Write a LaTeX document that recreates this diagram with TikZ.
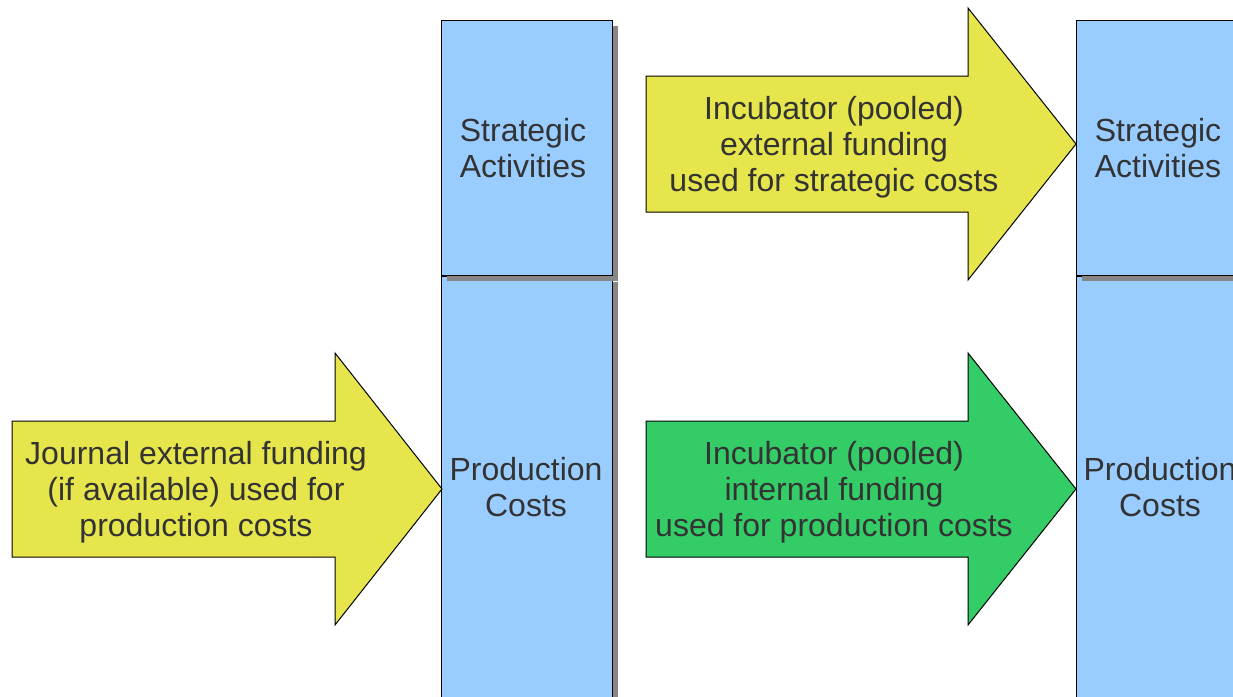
\documentclass[tikz,border=0pt]{standalone}
\usepackage{fontspec}
\setmainfont{Liberation Sans}
\usepackage{tikz}
\usetikzlibrary{shadows}

\definecolor{boxblue}{RGB}{153,204,255}
\definecolor{fundyellow}{RGB}{230,230,76}
\definecolor{fundgreen}{RGB}{51,204,102}
\definecolor{textgray}{RGB}{51,51,51}

\tikzset{
	costbox/.style={draw=black, line width=1.2pt, fill=boxblue, rectangle, anchor=north west,
		minimum width=171pt, inner sep=0pt,
		drop shadow={shadow xshift=5pt, shadow yshift=-5pt, fill=gray!95, opacity=1}},
	fundarrow/.style={draw=black, line width=1pt, line join=miter},
	label/.style={text=textgray, align=center, font=\fontsize{32}{36}\selectfont}
}

% big block arrow: body from x=#1 to #2, head tip at #3, centre line #4
\newcommand{\fundingarrow}[5]{
	\fill[#5, fundarrow] (#1,#4-68) -- (#2,#4-68) -- (#2,#4-136) -- (#3,#4)
		-- (#2,#4+136) -- (#2,#4+68) -- (#1,#4+68) -- cycle;
}

\begin{document}
\begin{tikzpicture}[x=1pt, y=-1pt]
	% Page
	\useasboundingbox (0,0) rectangle (1233,696);
	\clip (0,0) rectangle (1233,696);

	% Cost columns
	\node[costbox, minimum height=424pt] (prodA) at (441,276) {};
	\node[costbox, minimum height=255pt] (stratA) at (441,20) {};
	\node[costbox, minimum height=424pt] (prodB) at (1076,276) {};
	\node[costbox, minimum height=255pt] (stratB) at (1076,20) {};

	\node[label] (stratAtext) at (523,148) {Strategic\\Activities};
	\node[label] (prodAtext) at (526,487) {Production\\Costs};
	\node[label] (stratBtext) at (1158,148) {Strategic\\Activities};
	\node[label] (prodBtext) at (1160,487) {Production\\Costs};

	% Funding arrows
	\fundingarrow{12}{335}{442}{489}{fundyellow}
	\fundingarrow{646}{968}{1076}{144}{fundyellow}
	\fundingarrow{646}{968}{1076}{489}{fundgreen}

	\node[label] (journal) at (196,492) {Journal external funding\\(if available) used for\\production costs};
	\node[label] (pooledext) at (834,147) {Incubator (pooled)\\external funding\\used for strategic costs};
	\node[label] (pooledint) at (834,492) {Incubator (pooled)\\internal funding\\used for production costs};
\end{tikzpicture}
\end{document}
